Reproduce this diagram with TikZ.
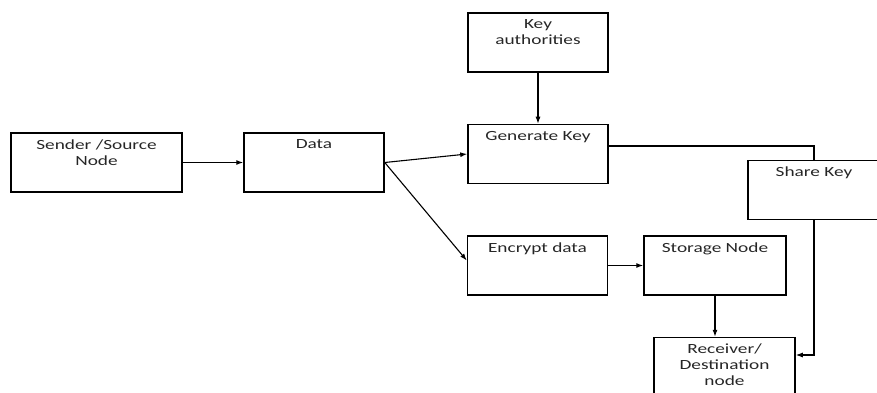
\documentclass[tikz,border=0pt]{standalone}
\usepackage{fontspec}
\setmainfont{Carlito}[FakeStretch=1.38]
\usetikzlibrary{positioning,arrows.meta}

\newcommand{\boxtext}[2][120pt]{\parbox[t][46pt][t]{#1}{\centering #2}}

\begin{document}
\begin{tikzpicture}[x=1pt, y=-1pt,
            blockbox/.style={rectangle, draw=black, line width=1.5pt, minimum width=140pt, minimum height=59pt, inner sep=6pt, text=black!85, font=\fontsize{14}{16}\selectfont},
            link/.style={line width=1.1pt},
            >={Latex[length=7pt,width=5pt]},
        ]
        \clip (0,0) rectangle (877,393);
        %Nodes
        \node[blockbox, minimum width=171pt] (source)  at (96.5,162.5) {\boxtext[155pt]{Sender /Source\\Node}};
        \node[blockbox]         (data)      at (314,162.5)  {\boxtext{Data}};
        \node[blockbox]         (authority) at (538,42.5)   {\boxtext{Key\\authorities}};
        \node[blockbox]         (genkey)    at (538,154)    {\boxtext{Generate Key}};
        \node[blockbox, minimum width=130pt] (sharekey) at (814,190) {\boxtext{Share Key}};
        \node[blockbox]         (encrypt)   at (537.5,265.5) {\boxtext{Encrypt data}};
        \node[blockbox, minimum width=142pt] (storage) at (715,265.5) {\boxtext{Storage Node}};
        \node[blockbox, minimum width=141pt] (receiver) at (724.5,367) {\boxtext{Receiver/\\Destination\\node}};

        %Lines
        \draw[link,->] (source.east) -- (data.west);
        \draw[link,->] (data.east) -- (genkey.west);
        \draw[link,->] (data.east) -- ([yshift=5pt]encrypt.west);
        \draw[link,->] (authority.south) -- (genkey.north);
        \draw[link] ([yshift=8pt]genkey.east) -| (sharekey.north);
        \draw[link,->] (encrypt.east) -- (storage.west);
        \draw[link,->] (storage.south) -- (storage.south |- receiver.north);
        \draw[link,->] (sharekey.south) |- ([yshift=12pt]receiver.east);
    \end{tikzpicture}
\end{document}
